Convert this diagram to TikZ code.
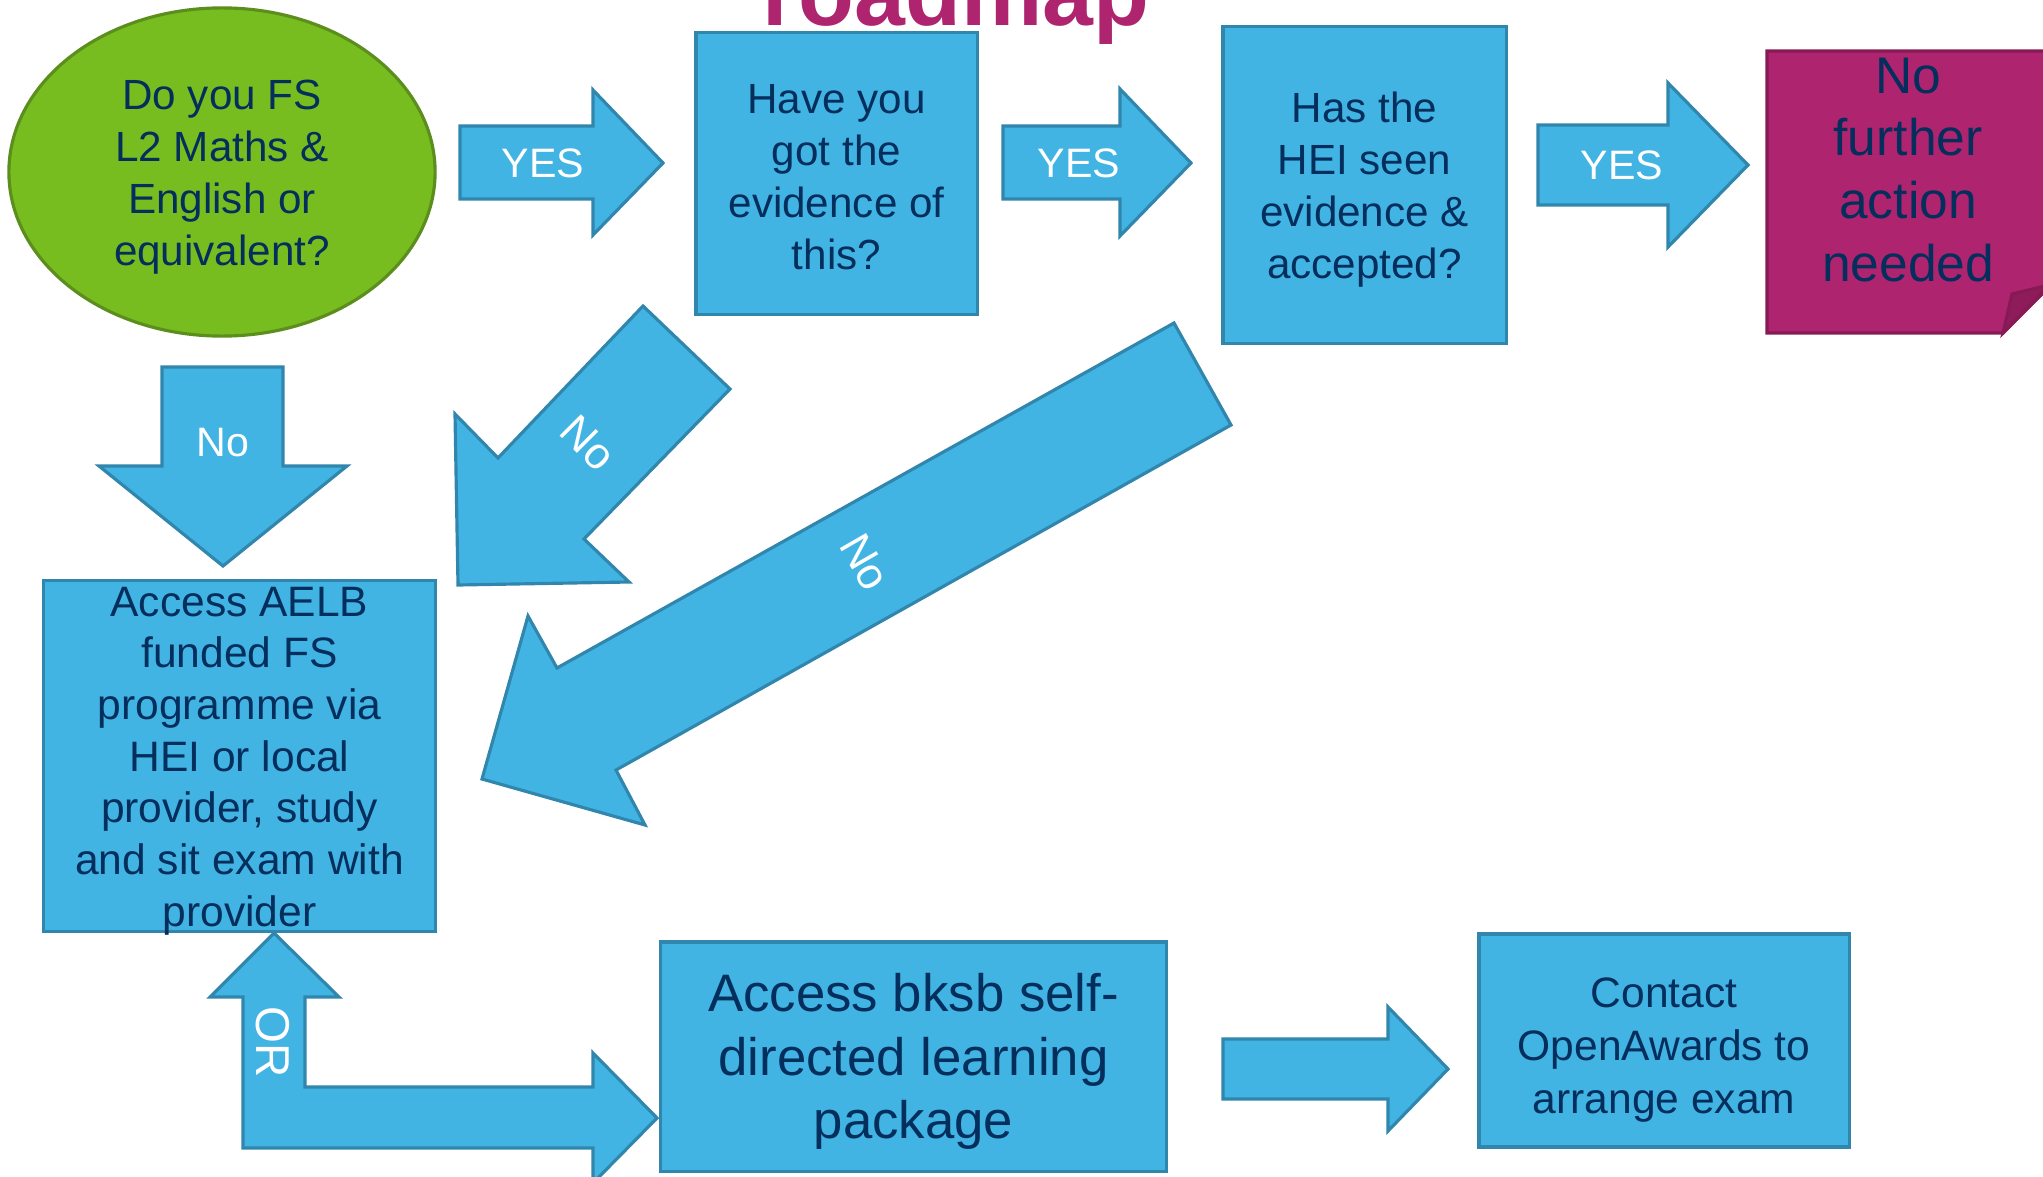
\documentclass[tikz,border=0pt]{standalone}
\usepackage{fontspec}
\setmainfont{Liberation Sans}
\usepackage{tikz}
\usetikzlibrary{shapes.geometric}
\definecolor{roadblue}{RGB}{66,180,228}
\definecolor{roadedge}{RGB}{48,134,172}
\definecolor{roadnavy}{RGB}{4,46,92}
\definecolor{roadgreen}{RGB}{120,189,32}
\definecolor{greenedge}{RGB}{92,142,30}
\definecolor{roadmagenta}{RGB}{175,36,111}
\definecolor{magentaedge}{RGB}{135,26,85}
\definecolor{foldflap}{RGB}{142,28,90}

\tikzset{
  stepbox/.style={draw=roadedge,fill=roadblue,line width=0.9pt,inner sep=0pt},
  boxtext/.style={text=roadnavy,align=center,inner sep=0pt,font=\fontsize{12}{14.8}\selectfont},
  blockarrow/.style={draw=roadedge,fill=roadblue,line width=0.9pt,line join=miter},
  arrowtext/.style={text=white,inner sep=0pt,font=\fontsize{11.7}{14}\selectfont}
}

\begin{document}
\begin{tikzpicture}[x=0.01cm,y=-0.01cm]
\useasboundingbox (0,0) rectangle (2043,1176);
\clip (0,0) rectangle (2043,1176);

\node (roadmap) [anchor=base,text=roadmagenta,font=\fontsize{26}{30}\selectfont\bfseries] at (956,26) {roadmap};

\node (fsq) [ellipse,draw=greenedge,fill=roadgreen,line width=0.9pt,inner sep=0pt,minimum width=4.26cm,minimum height=3.28cm] at (222,172) {};
\node (fsqtext) [boxtext] at (222,177) {Do you FS\\L2 Maths \&\\English or\\equivalent?};

\node (evidence) [stepbox,minimum width=2.81cm,minimum height=2.81cm] at (836.5,173.5) {};
\node (evidencetext) [boxtext] at (836.5,177.5) {Have you\\got the\\evidence of\\this?};

\node (heiseen) [stepbox,minimum width=2.83cm,minimum height=3.16cm] at (1364.5,185) {};
\node (heiseentext) [boxtext] at (1364.5,190) {Has the\\HEI seen\\evidence \&\\accepted?};

\node (aelb) [stepbox,minimum width=3.91cm,minimum height=3.5cm] at (239.5,756) {};
\node (aelbtext) [boxtext,font=\fontsize{12.1}{14.7}\selectfont] at (239.5,761)
  {Access AELB\\funded FS\\programme via\\HEI or local\\provider, study\\and sit exam with\\provider};

\node (bksb) [stepbox,minimum width=5.05cm,minimum height=2.29cm] at (913.5,1056.5) {};
\node (bksbtext) [boxtext,font=\fontsize{15}{18}\selectfont] at (913.5,1061.5) {Access bksb self-\\directed learning\\package};

\node (contact) [stepbox,minimum width=3.7cm,minimum height=2.13cm] at (1664,1040.5) {};
\node (contacttext) [boxtext,font=\fontsize{12.1}{15}\selectfont] at (1664,1050) {Contact\\OpenAwards to\\arrange exam};

\filldraw[fill=roadmagenta,draw=magentaedge,line width=0.9pt] (1767,51) -- (2049,51) -- (2049,287) -- (2003,333) -- (1767,333) -- cycle;
\filldraw[fill=foldflap,draw=magentaedge,line width=0.9pt] (2003,333) -- (2012,294) -- (2049,285) -- cycle;
\node (noaction) [boxtext,font=\fontsize{14.65}{17.9}\selectfont] at (1908,170) {No\\further\\action\\needed};

\draw[blockarrow] (460,126) -- (593,126) -- (593,90) -- (663,163) -- (593,235) -- (593,199) -- (460,199) -- cycle;
\node (yesA) [arrowtext] at (543,163) {YES};
\draw[blockarrow] (1003,126) -- (1120,126) -- (1120,89) -- (1191,163) -- (1120,236) -- (1120,199) -- (1003,199) -- cycle;
\node (yesB) [arrowtext] at (1079,163) {YES};
\draw[blockarrow] (1538,125) -- (1668,125) -- (1668,83) -- (1748,165) -- (1668,247) -- (1668,205) -- (1538,205) -- cycle;
\node (yesC) [arrowtext] at (1622,165) {YES};

\draw[blockarrow] (162,367) -- (283,367) -- (283,466) -- (347,466) -- (223,566) -- (99,466) -- (162,466) -- cycle;
\node (noA) [arrowtext] at (223,443) {No};

\draw[blockarrow] (643,306) -- (730,389) -- (584,539) -- (629,582) -- (458,585) -- (455,414) -- (498,458) -- cycle;
\node (noB) [arrowtext,rotate=-45,font=\fontsize{12.5}{15}\selectfont] at (588,443) {No};

\draw[blockarrow] (1174,323) -- (1231,425) -- (616,770) -- (645,825) -- (482,779) -- (528,616) -- (557,668) -- cycle;
\node (noC) [arrowtext,rotate=-60,font=\fontsize{12.5}{15}\selectfont] at (865,562) {No};

\draw[blockarrow] (274,933) -- (339,997) -- (305,997) -- (305,1087) -- (593,1087) -- (593,1053) -- (657,1118)
  -- (593,1183) -- (593,1148) -- (243,1148) -- (243,997) -- (210,997) -- cycle;
\node (orlabel) [arrowtext,rotate=-90,font=\fontsize{13.5}{16}\selectfont] at (273,1042) {OR};

\draw[blockarrow] (1223,1039) -- (1388,1039) -- (1388,1007) -- (1448,1069) -- (1388,1131) -- (1388,1099) -- (1223,1099) -- cycle;
\end{tikzpicture}
\end{document}
